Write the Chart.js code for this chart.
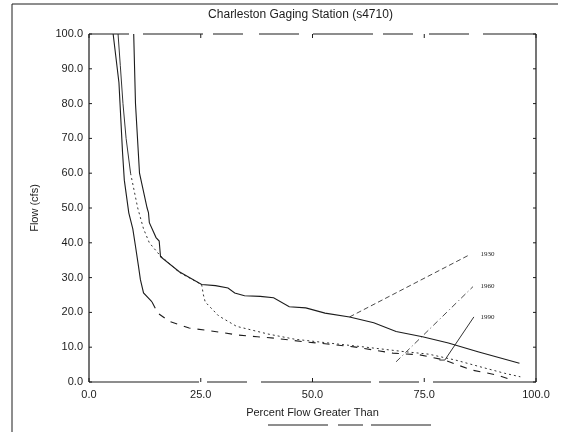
<!DOCTYPE html>
<html>
<head>
<meta charset="utf-8">
<script src="https://cdn.jsdelivr.net/npm/chart.js@4.4.1/dist/chart.umd.min.js"></script>
<style>
  html, body { margin: 0; padding: 0; background: #fff; }
  #wrap { width: 564px; height: 432px; }
</style>
</head>
<body>
<div id="wrap"><canvas id="flowChart" width="564" height="432"></canvas></div>
<script>
(function () {
  "use strict";

  var chartTitle = "Charleston Gaging Station (s4710)";

  // tick values
  var xTicks = [0, 25, 50, 75, 100];
  var yTicks = [0, 10, 20, 30, 40, 50, 60, 70, 80, 90, 100];

  // flow duration curves (percent exceeded, cfs)
  var pct1930 = [10.0, 10.4, 11.3, 13.0, 13.3, 13.5, 15.0, 15.7, 16.0, 20.2, 25.2, 28.3, 31.1, 32.6, 34.8, 38.3, 41.3, 44.8, 48.5, 52.8, 58.3, 63.7, 68.7, 74.6, 80.4, 87.0, 96.3];
  var flow1930 = [100, 80, 60, 50, 48.7, 45.8, 41.5, 40.5, 36.0, 31.7, 28.0, 27.7, 27.0, 25.6, 24.8, 24.6, 24.2, 21.6, 21.3, 19.8, 18.7, 17.0, 14.5, 13.0, 11.2, 8.7, 5.4];

  var pct1960 = [6.5, 7.0, 7.6, 8.3, 9.3, 10.9, 12.2, 13.5, 15.8, 20.2, 25.2, 25.6, 26.0, 29.0, 33.0, 40.0, 46.0, 55.0, 62.0, 70.0, 76.0, 82.0, 88.0, 93.0, 96.5];
  var flow1960 = [100, 91, 80, 70, 60, 50, 44, 40, 36.5, 31.5, 28.0, 25.0, 23.0, 19.0, 16.0, 13.8, 12.3, 11.0, 10.0, 8.8, 8.0, 6.3, 4.2, 2.5, 1.5];

  var pct1990 = [5.4, 6.7, 7.5, 7.9, 8.9, 9.8, 10.4, 11.1, 11.5, 12.2, 14.1, 15.4, 18.0, 22.4, 26.7, 33.3, 37.6, 41.5, 47.8, 52.8, 59.3, 68.0, 74.0, 79.6, 85.4, 91.3, 94.8];
  var flow1990 = [100, 86, 66, 58, 48.6, 44, 39, 33, 29.4, 25.6, 23.0, 19.8, 17.4, 15.5, 14.8, 13.5, 13.0, 12.6, 11.6, 11.0, 10.1, 8.3, 7.8, 6.3, 3.5, 2.0, 0.5];

  // leader lines and year labels
  var years = ["1930", "1960", "1990"];
  var leader1930Pct = [58.3, 85.2];
  var leader1930Flow = [18.7, 36.6];
  var leader1960Pct = [68.7, 85.9];
  var leader1960Flow = [5.8, 27.4];
  var leader1990Pct = [78.4, 79.6, 86.1];
  var leader1990Flow = [6.3, 6.3, 18.7];
  var labelPct = [87.6, 87.6, 87.6];
  var labelFlow = [36.6, 27.4, 18.7];

  var ink = "#1c1c1c";

  function toPoints(xs, ys) {
    return xs.map(function (x, i) {
      return { x: x, y: ys[i] };
    });
  }

  function lineSet(label, xs, ys, extra) {
    return Object.assign(
      {
        label: label,
        data: toPoints(xs, ys),
        borderColor: ink,
        borderWidth: 1.1,
        pointRadius: 0,
        fill: false,
        tension: 0,
      },
      extra || {},
    );
  }

  var framePlugin = {
    id: "frame",
    afterDatasetsDraw: function (chart) {
      var ctx = chart.ctx;
      var a = chart.chartArea;
      var xs = chart.scales.x;
      var ys = chart.scales.y;
      ctx.save();
      ctx.strokeStyle = ink;
      ctx.lineWidth = 1.2;

      // plot box
      ctx.beginPath();
      ctx.moveTo(a.left, a.top);
      ctx.lineTo(a.left, a.bottom);
      ctx.moveTo(a.right, a.top);
      ctx.lineTo(a.right, a.bottom);
      ctx.stroke();
      ctx.setLineDash([40, 14, 60, 10, 30, 16]);
      ctx.beginPath();
      ctx.moveTo(a.left, a.top);
      ctx.lineTo(a.right, a.top);
      ctx.stroke();
      ctx.setLineDash([110, 8, 40, 14]);
      ctx.beginPath();
      ctx.moveTo(a.left, a.bottom);
      ctx.lineTo(a.right, a.bottom);
      ctx.stroke();
      ctx.setLineDash([]);

      // inward ticks
      ctx.lineWidth = 1;
      ctx.beginPath();
      yTicks.forEach(function (v) {
        var py = ys.getPixelForValue(v);
        ctx.moveTo(a.left, py);
        ctx.lineTo(a.left + 3, py);
        ctx.moveTo(a.right, py);
        ctx.lineTo(a.right - 3, py);
      });
      xTicks.forEach(function (v) {
        var px = xs.getPixelForValue(v);
        ctx.moveTo(px, a.bottom);
        ctx.lineTo(px, a.bottom - 4);
        ctx.moveTo(px, a.top);
        ctx.lineTo(px, a.top + 4);
      });
      ctx.stroke();

      // title, sitting a little left of the plot centre as in the scan
      ctx.fillStyle = ink;
      ctx.font = "12px 'Liberation Sans', Arial, sans-serif";
      ctx.textAlign = "center";
      ctx.textBaseline = "middle";
      ctx.fillText(chartTitle, (a.left + a.right) / 2 - 12, 15);

      // year labels
      ctx.font = "7px 'Liberation Serif', serif";
      ctx.textAlign = "left";
      years.forEach(function (yr, i) {
        ctx.fillText(yr, xs.getPixelForValue(labelPct[i]), ys.getPixelForValue(labelFlow[i]));
      });

      // outer page frame
      ctx.lineWidth = 1;
      ctx.beginPath();
      ctx.moveTo(12, 432);
      ctx.lineTo(12, 4);
      ctx.lineTo(558, 4);
      ctx.stroke();
      ctx.setLineDash([60, 10, 25, 8]);
      ctx.beginPath();
      ctx.moveTo(268, 425);
      ctx.lineTo(440, 425);
      ctx.stroke();
      ctx.restore();
    },
  };

  Chart.defaults.font.family = "'Liberation Sans', Arial, sans-serif";
  Chart.defaults.color = ink;

  new Chart(document.getElementById("flowChart"), {
    type: "line",
    data: {
      datasets: [
        lineSet("1930", pct1930, flow1930),
        lineSet("1960", pct1960, flow1960, {
          borderWidth: 1,
          borderColor: "#333",
          borderDash: [2, 3],
          segment: {
            borderDash: function (c) {
              return c.p0.parsed.y > 62 ? [] : undefined;
            },
          },
        }),
        lineSet("1990", pct1990, flow1990, {
          segment: {
            borderDash: function (c) {
              return c.p0.parsed.y < 24 ? [7, 7] : undefined;
            },
          },
        }),
        lineSet("1930 leader", leader1930Pct, leader1930Flow, { borderWidth: 0.8, borderDash: [5, 3] }),
        lineSet("1960 leader", leader1960Pct, leader1960Flow, { borderWidth: 0.8, borderDash: [6, 3, 1, 3] }),
        lineSet("1990 leader", leader1990Pct, leader1990Flow, { borderWidth: 0.9 }),
      ],
    },
    options: {
      responsive: false,
      animation: false,
      layout: { padding: { left: 28, right: 28, top: 34, bottom: 12 } },
      plugins: {
        legend: { display: false },
        tooltip: { enabled: false },
        title: { display: false },
      },
      scales: {
        x: {
          type: "linear",
          min: 0,
          max: 100,
          afterBuildTicks: function (scale) {
            scale.ticks = xTicks.map(function (v) { return { value: v }; });
          },
          afterFit: function (scale) {
            scale.height = 38;
          },
          grid: { display: false, drawTicks: false },
          border: { display: false },
          ticks: {
            padding: 6,
            maxRotation: 0,
            color: ink,
            font: { size: 11 },
            callback: function (v) { return Number(v).toFixed(1); },
          },
          title: {
            display: true,
            text: "Percent Flow Greater Than",
            color: ink,
            font: { size: 11 },
            padding: { top: 0, bottom: 0 },
          },
        },
        y: {
          min: 0,
          max: 100,
          afterBuildTicks: function (scale) {
            scale.ticks = yTicks.map(function (v) { return { value: v }; });
          },
          afterFit: function (scale) {
            scale.width = 61;
          },
          grid: { display: false, drawTicks: false },
          border: { display: false },
          ticks: {
            padding: 6,
            color: ink,
            font: { size: 11 },
            callback: function (v) { return Number(v).toFixed(1); },
          },
          title: {
            display: true,
            text: "Flow (cfs)",
            color: ink,
            font: { size: 11 },
            padding: { top: 0, bottom: 0 },
          },
        },
      },
    },
    plugins: [framePlugin],
  });
})();
</script>
</body>
</html>
